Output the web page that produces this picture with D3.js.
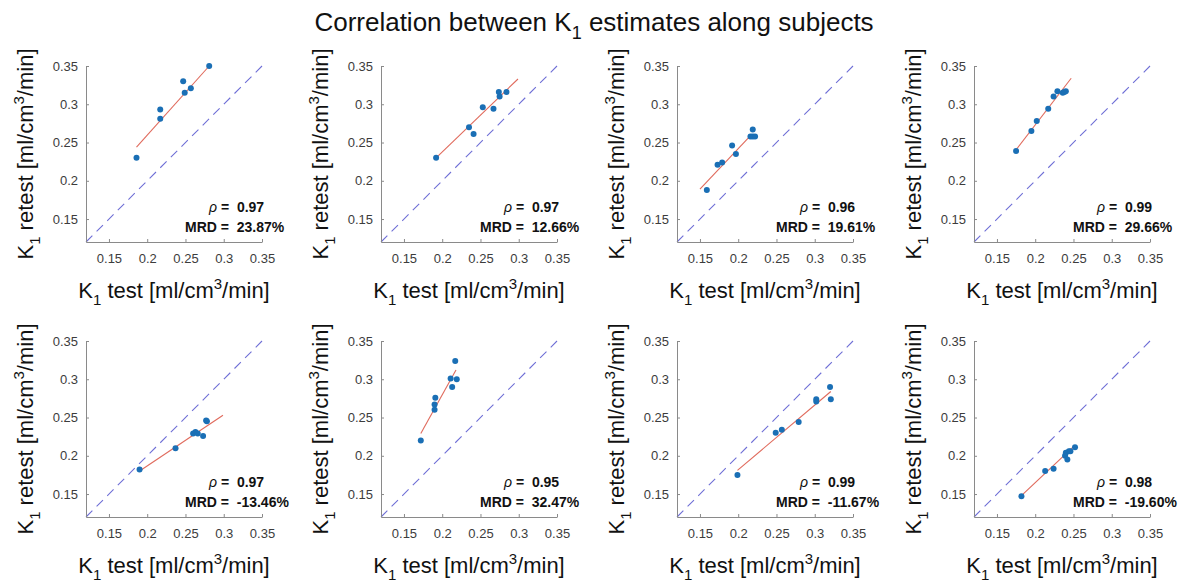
<!DOCTYPE html>
<html><head><meta charset="utf-8">
<script src="https://cdn.jsdelivr.net/npm/d3@7"></script>
<style>
body{margin:0;background:#fff}
svg{display:block}
text{font-family:"Liberation Sans",Arial,Helvetica,sans-serif}
</style>
</head><body>
<svg id="chart" width="1189" height="586"></svg>
<script>
// ---- data ----
const titleText = "Correlation between K";
const tickValues = [0.15, 0.2, 0.25, 0.3, 0.35];
const axisDomain = [0.12, 0.35];
const rhoLabels = ["0.97", "0.97", "0.96", "0.99", "0.97", "0.95", "0.99", "0.98"];
const mrdLabels = ["23.87%", "12.66%", "19.61%", "29.66%", "-13.46%", "32.47%", "-11.67%", "-19.60%"];

const s1Test   = [0.186, 0.217, 0.217, 0.247, 0.249, 0.257, 0.281];
const s1Retest = [0.230, 0.293, 0.281, 0.330, 0.315, 0.321, 0.350];
const s2Test   = [0.192, 0.235, 0.241, 0.253, 0.267, 0.274, 0.275, 0.284];
const s2Retest = [0.230, 0.270, 0.261, 0.296, 0.294, 0.316, 0.310, 0.316];
const s3Test   = [0.159, 0.173, 0.179, 0.192, 0.197, 0.216, 0.219, 0.219, 0.222];
const s3Retest = [0.188, 0.221, 0.224, 0.246, 0.235, 0.258, 0.267, 0.258, 0.258];
const s4Test   = [0.175, 0.195, 0.202, 0.217, 0.224, 0.229, 0.236, 0.238, 0.240];
const s4Retest = [0.239, 0.265, 0.278, 0.294, 0.310, 0.317, 0.315, 0.316, 0.317];
const s5Test   = [0.190, 0.237, 0.260, 0.263, 0.266, 0.273, 0.277, 0.278];
const s5Retest = [0.182, 0.210, 0.229, 0.231, 0.229, 0.226, 0.246, 0.245];
const s6Test   = [0.172, 0.190, 0.190, 0.191, 0.211, 0.213, 0.217, 0.219];
const s6Retest = [0.220, 0.260, 0.267, 0.276, 0.301, 0.290, 0.324, 0.300];
const s7Test   = [0.199, 0.249, 0.257, 0.279, 0.302, 0.302, 0.320, 0.321];
const s7Retest = [0.175, 0.230, 0.234, 0.244, 0.271, 0.274, 0.290, 0.274];
const s8Test   = [0.182, 0.213, 0.224, 0.239, 0.240, 0.242, 0.244, 0.246, 0.252];
const s8Retest = [0.147, 0.180, 0.183, 0.200, 0.204, 0.195, 0.206, 0.206, 0.211];

const fitStartX = [0.186, 0.192, 0.150, 0.173, 0.193, 0.172, 0.199, 0.182];
const fitStartY = [0.244, 0.230, 0.189, 0.238, 0.182, 0.229, 0.181, 0.148];
const fitEndX   = [0.281, 0.299, 0.217, 0.247, 0.299, 0.218, 0.321, 0.250];
const fitEndY   = [0.350, 0.333, 0.260, 0.334, 0.253, 0.312, 0.284, 0.212];

const testSets = [s1Test, s2Test, s3Test, s4Test, s5Test, s6Test, s7Test, s8Test];
const retestSets = [s1Retest, s2Retest, s3Retest, s4Retest, s5Retest, s6Retest, s7Retest, s8Retest];

// ---- layout ----
const panelLeft = [86, 381, 677, 974];
const panelTop = [66, 341];
const size = 176;
const axisColor = "#8a8a8a";
const tickTextColor = "#3c3c3c";

const svg = d3.select("#chart");

// title
const title = svg.append("text")
  .attr("x", 594).attr("y", 31)
  .attr("text-anchor", "middle")
  .attr("font-size", 26).attr("fill", "#111");
title.append("tspan").text(titleText);
title.append("tspan").attr("font-size", 18).attr("dy", 8).text("1");
title.append("tspan").attr("dy", -8).text(" estimates along subjects");

function addLabel(sel, main) {
  sel.append("tspan").text("K");
  sel.append("tspan").attr("font-size", 15).attr("dy", 7).text("1");
  sel.append("tspan").attr("dy", -7).text(" " + main + " [ml/cm");
  sel.append("tspan").attr("font-size", 15).attr("dy", -9).text("3");
  sel.append("tspan").attr("dy", 9).text("/min]");
}

const fmt = d3.format("~g");

for (let i = 0; i < 8; i++) {
  const col = i % 4, row = Math.floor(i / 4);
  const L = panelLeft[col], T = panelTop[row];
  const g = svg.append("g").attr("transform", `translate(${L},${T})`);
  const x = d3.scaleLinear().domain(axisDomain).range([0, size]);
  const y = d3.scaleLinear().domain(axisDomain).range([size, 0]);

  // identity line
  g.append("line")
    .attr("x1", x(axisDomain[0])).attr("y1", y(axisDomain[0]))
    .attr("x2", x(axisDomain[1])).attr("y2", y(axisDomain[1]))
    .attr("stroke", "#6f6fd6").attr("stroke-width", 1.1)
    .attr("stroke-dasharray", "9,6");

  // fit line
  g.append("line")
    .attr("x1", x(fitStartX[i])).attr("y1", y(fitStartY[i]))
    .attr("x2", x(fitEndX[i])).attr("y2", y(fitEndY[i]))
    .attr("stroke", "#e06a5c").attr("stroke-width", 1.1);

  // points
  const pts = testSets[i].map((t, k) => [t, retestSets[i][k]]);
  g.selectAll("circle.pt").data(pts).join("circle")
    .attr("class", "pt")
    .attr("cx", d => x(d[0])).attr("cy", d => y(d[1]))
    .attr("r", 3).attr("fill", "#1a6fb5");

  // axes
  const ax = g.append("g").attr("transform", `translate(0,${size})`)
    .call(d3.axisBottom(x).tickValues(tickValues).tickFormat(fmt)
      .tickSizeInner(-3).tickSizeOuter(0).tickPadding(12));
  const ay = g.append("g")
    .call(d3.axisLeft(y).tickValues(tickValues).tickFormat(fmt)
      .tickSizeInner(-3).tickSizeOuter(0).tickPadding(8));
  [ax, ay].forEach(a => {
    a.select(".domain").attr("stroke", axisColor);
    a.selectAll(".tick line").attr("stroke", axisColor);
    a.selectAll(".tick text").attr("fill", tickTextColor)
      .attr("font-size", 13).attr("font-family", '"Liberation Sans",Arial,sans-serif');
  });

  // stats text
  const t1 = g.append("text").attr("x", 123).attr("y", size - 30)
    .attr("font-size", 14).attr("fill", "#111").style("white-space", "pre");
  t1.append("tspan").attr("font-style", "italic").text("\u03C1");
  t1.append("tspan").attr("font-weight", "bold").text(" =  " + rhoLabels[i]);
  g.append("text").attr("x", 99).attr("y", size - 10)
    .attr("font-size", 14).attr("font-weight", "bold").attr("fill", "#111")
    .style("white-space", "pre")
    .text("MRD =  " + mrdLabels[i]);

  // axis labels
  const xl = g.append("text")
    .attr("x", size / 2).attr("y", size + 56)
    .attr("text-anchor", "middle").attr("font-size", 22).attr("fill", "#111");
  addLabel(xl, "test");
  const yl = g.append("text")
    .attr("transform", `translate(-53,${size / 2}) rotate(-90)`)
    .attr("text-anchor", "middle").attr("font-size", 22).attr("fill", "#111");
  addLabel(yl, "retest");
}
</script>
</body></html>
